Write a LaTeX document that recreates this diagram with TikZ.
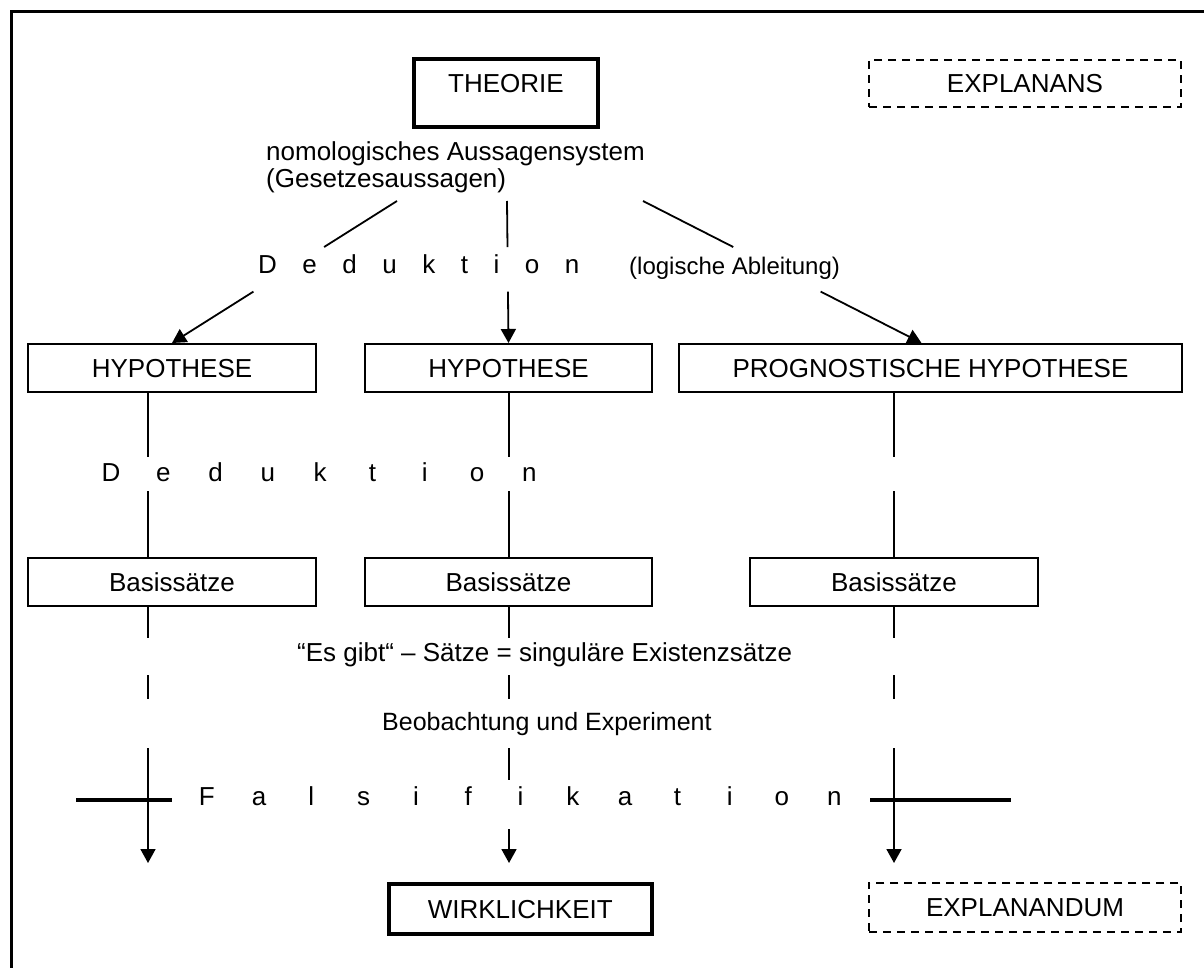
\documentclass[tikz,border=0pt]{standalone}
\usepackage{fontspec}
\setmainfont{Liberation Sans}
\usetikzlibrary{calc,arrows.meta}
\newcommand\fsA{\fontsize{26pt}{26.7pt}\selectfont}
\newcommand\fsB{\fontsize{24pt}{26pt}\selectfont}
\newcommand\fsC{\fontsize{25pt}{26pt}\selectfont}
\newcommand\gp{\hskip25.5pt}
\newcommand\lb[1]{\makebox[52.3pt]{#1}}
\begin{document}
\begin{tikzpicture}[x=1pt,y=-1pt,
 lab/.style={font=\fsA, inner sep=0pt},
 labs/.style={font=\fsB, inner sep=0pt},
 labm/.style={font=\fsC, inner sep=0pt},
 bx/.style={draw, line width=2pt, inner sep=0pt, font=\fsA, text height=18.6pt, text depth=0pt},
 thbx/.style={bx, line width=4pt},
 dbx/.style={bx, dash pattern=on 8pt off 6pt, line width=1.8pt},
 ln/.style={line width=1.8pt},
 arr/.style={-{Triangle[length=14pt,width=15pt]}},
 thk/.style={line width=4.5pt}]
\useasboundingbox (0,0) rectangle (1204,968);
% frame
\draw[line width=3pt] (11.5,968) -- (11.5,11.5) -- (1204,11.5);
% boxes
\node[thbx, text depth=18.6pt, minimum width=184pt, minimum height=68pt] (theo) at (506,93) {THEORIE};
\node[dbx, minimum width=312pt, minimum height=47pt] (expl) at (1025,83.5) {EXPLANANS};
\node[bx, minimum width=288pt, minimum height=48pt] (h1) at (172,368) {HYPOTHESE};
\node[bx, minimum width=287pt, minimum height=48pt] (h2) at (508.5,368) {HYPOTHESE};
\node[bx, minimum width=503pt, minimum height=48pt] (h3) at (930.5,368) {PROGNOSTISCHE HYPOTHESE};
\node[bx, minimum width=288pt, minimum height=48.6pt] (b1) at (172,582) {Basissätze};
\node[bx, minimum width=287pt, minimum height=48.6pt] (b2) at (508.5,582) {Basissätze};
\node[bx, minimum width=288pt, minimum height=48.6pt] (b3) at (894,582) {Basissätze};
\node[thbx, minimum width=262.6pt, minimum height=50.3pt] (wirk) at (520.3,908.9) {WIRKLICHKEIT};
\node[dbx, minimum width=312pt, minimum height=49.3pt] (expd) at (1025,907.4) {EXPLANANDUM};
% texts
\node[lab, anchor=west, align=left] (nomo) at (266,167) {nomologisches Aussagensystem\\(Gesetzesaussagen)};
\node[lab, anchor=base west] (ded1) at (258,273.5) {D\gp e\gp d\gp u\gp k\gp t\gp i\gp o\gp n};
\node[labs, anchor=base west] (logi) at (629,275) {(logische Ableitung)};
\node[lab, anchor=base] (ded2) at (320.2,481.7) {\lb{D}\lb{e}\lb{d}\lb{u}\lb{k}\lb{t}\lb{i}\lb{o}\lb{n}};
\node[lab, anchor=base west] (esg) at (297,661) {“Es gibt“ – Sätze = singuläre Existenzsätze};
\node[labm, anchor=base west] (beob) at (382,730) {Beobachtung und Experiment};
\node[lab, anchor=base] (fals) at (520.5,805.7) {\lb{F}\lb{a}\lb{l}\lb{s}\lb{i}\lb{f}\lb{i}\lb{k}\lb{a}\lb{t}\lb{i}\lb{o}\lb{n}};
% coordinates
\coordinate (s1) at (397,201);
\coordinate (s2) at (507,201);
\coordinate (s3) at (643,201);
\coordinate (t3) at ($(h3.north)+(-9,0)$);
\coordinate (xL) at (148,0);
\coordinate (xM) at (509,0);
\coordinate (eL) at (148,863);
\coordinate (eM) at (509,863);
\coordinate (eR) at (894,863);
\coordinate (f1) at (76,800);
\coordinate (f2) at (171.5,800);
\coordinate (f3) at (870,800);
\coordinate (f4) at (1011.4,800);
% deduction arrows from theory
\draw[ln] (s1) -- ($(s1)!0.324!(h1.north)$);
\draw[ln,arr] ($(s1)!0.638!(h1.north)$) -- (h1.north);
\draw[ln] (s2) -- ($(s2)!0.324!(h2.north)$);
\draw[ln,arr] ($(s2)!0.638!(h2.north)$) -- (h2.north);
\draw[ln] (s3) -- ($(s3)!0.324!(t3)$);
\draw[ln,arr] ($(s3)!0.638!(t3)$) -- (t3);
% hypothesis to basic statements
\draw[ln, dash pattern=on 63.7pt off 34.3pt on 200pt] (h1.south -| xL) -- (b1.north -| xL);
\draw[ln, dash pattern=on 63.7pt off 34.3pt on 200pt] (h2.south -| xM) -- (b2.north -| xM);
\draw[ln, dash pattern=on 63.7pt off 34.3pt on 200pt] (h3.south -| b3.north) -- (b3.north);
% basic statements downwards
\draw[ln, arr, dash pattern=on 30.4pt off 37.3pt on 24pt off 49pt on 300pt] (b1.south -| xL) -- (eL);
\draw[ln, arr, dash pattern=on 30.4pt off 37.3pt on 24pt off 49pt on 32pt off 49pt on 300pt] (b2.south -| xM) -- (eM);
\draw[ln, arr, dash pattern=on 30.4pt off 37.3pt on 24pt off 49pt on 300pt] (b3.south) -- (eR);
% falsification bars
\draw[thk] (f1) -- (f2);
\draw[thk] (f3) -- (f4);
\end{tikzpicture}
\end{document}
